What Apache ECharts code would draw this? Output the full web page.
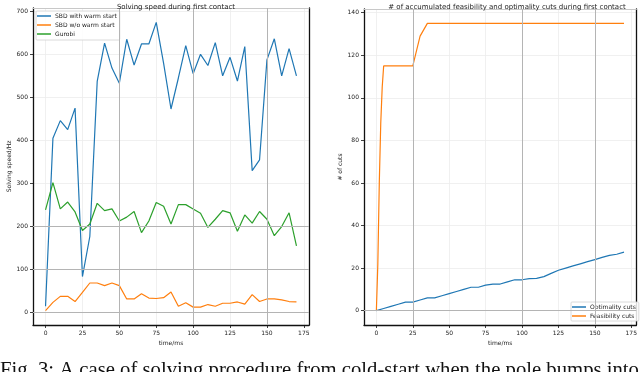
<!DOCTYPE html>
<html>
<head>
<meta charset="utf-8">
<script src="https://cdn.jsdelivr.net/npm/echarts@6/dist/echarts.min.js"></script>
<style>
html,body{margin:0;padding:0;background:#fff;}
#c{width:640px;height:372px;}
</style>
</head>
<body>
<div id="c"></div>
<script>
// ---- data ----
const time = [0,5,10,15,20,25,30,35,40,45,50,55,60,65,70,75,80,85,90,95,100,105,110,115,120,125,130,135,140,145,150,155,160,165,170];
const sbdWarm = [15,405,446,425,475,84,177,537,626,568,533,635,575,624,624,674,579,473,545,620,555,600,574,627,550,593,538,618,330,355,587,636,550,613,550];
const sbdNoWarm = [5,24,38,38,26,47,69,69,63,69,63,32,32,44,34,33,35,48,15,23,13,13,19,15,22,22,25,20,42,26,32,32,30,26,25];
const gurobi = [239,302,241,257,234,191,206,254,237,241,213,222,235,186,213,256,247,206,251,251,241,231,198,217,237,232,189,227,208,235,217,179,200,232,155];
const optimalityCuts = [0,1,2,3,4,4,5,6,6,7,8,9,10,11,11,12,12.5,12.5,13.5,14.5,14.5,15,15.2,16,17.5,19,20,21,22,23,24,25,26,26.5,27.5];
const feasTime = [0,1,2,3,4,5,25,30,35,170];
const feasibilityCuts = [0,22,60,88,105,115,115,129,135,135];
const xTicks = [0,25,50,75,100,125,150,175];
const yTicksLeft = [0,100,200,300,400,500,600,700];
const yTicksRight = [0,20,40,60,80,100,120,140];
const darkXLeft = [50,100,150];
const darkYLeft = [0,100,200];
const darkXRight = [25,100,150];
const darkYRight = [0];

const zip = (xs, ys) => xs.map((x,i)=>[x, ys[i]]);
const FONT = 'DejaVu Sans';
const C1 = '#1f77b4', C2 = '#ff7f0e', C3 = '#2ca02c';

function xAxisCfg(gi, name) {
  return {
    type:'value', gridIndex:gi, min:-8.5, max:178.5,
    name:name, nameLocation:'middle', nameGap:15,
    nameTextStyle:{fontFamily:FONT, fontSize:6, color:'#222'},
    axisLine:{show:true, onZero:false, lineStyle:{color:'#111', width:1.3}},
    axisTick:{show:true, length:3, customValues:xTicks, lineStyle:{color:'#111', width:0.8}},
    axisLabel:{customValues:xTicks, fontFamily:FONT, fontSize:6, color:'#222', margin:5},
    splitLine:{show:true, lineStyle:{color:'#ececec', width:0.8}}
  };
}
function yAxisCfg(gi, min, max, ticks, name) {
  return {
    type:'value', gridIndex:gi, min:min, max:max,
    name:name, nameLocation:'middle', nameGap:21,
    nameTextStyle:{fontFamily:FONT, fontSize:6, color:'#222'},
    axisLine:{show:true, onZero:false, lineStyle:{color:'#111', width:1.3}},
    axisTick:{show:true, length:3, customValues:ticks, lineStyle:{color:'#111', width:0.8}},
    axisLabel:{customValues:ticks, fontFamily:FONT, fontSize:6, color:'#222', margin:5},
    splitLine:{show:true, lineStyle:{color:'#ececec', width:0.8}}
  };
}
function frameX(gi) {
  return {type:'value', gridIndex:gi, position:'top', min:-8.5, max:178.5,
    axisLine:{show:true, onZero:false, lineStyle:{color:'#c8c8c8', width:1}},
    axisTick:{show:false}, axisLabel:{show:false}, splitLine:{show:false}};
}
function frameY(gi, min, max, color) {
  return {type:'value', gridIndex:gi, position:'right', min:min, max:max,
    axisLine:{show:true, onZero:false, lineStyle:{color:color, width:1.3}},
    axisTick:{show:false}, axisLabel:{show:false}, splitLine:{show:false}};
}
function gridLines(xs, ys) {
  return {
    silent:true, symbol:['none','none'], animation:false,
    label:{show:false},
    lineStyle:{color:'#b4b4b4', width:1, type:'solid'},
    data: xs.map(v=>({xAxis:v})).concat(ys.map(v=>({yAxis:v})))
  };
}
function lineSeries(name, data, color, xi, yi, ml) {
  const s = {type:'line', name:name, data:data, xAxisIndex:xi, yAxisIndex:yi,
    showSymbol:false, symbol:'none', lineStyle:{color:color, width:1.2}, itemStyle:{color:color},
    animation:false, z:3};
  if (ml) s.markLine = ml;
  return s;
}

const chart = echarts.init(document.getElementById('c'), null, {renderer:'canvas'});
chart.setOption({
  backgroundColor:'#fff',
  animation:false,
  title:[
    {text:'Solving speed during first contact', left:171, top:-1, textAlign:'center',
      textStyle:{fontFamily:FONT, fontSize:7, fontWeight:'normal', color:'#222'}},
    {text:'# of accumulated feasibility and optimality cuts during first contact', left:502, top:-1, textAlign:'center',
      textStyle:{fontFamily:FONT, fontSize:7, fontWeight:'normal', color:'#222'}}
  ],
  grid:[
    {left:33, top:8, width:276, height:317},
    {left:364, top:9, width:276, height:316}
  ],
  xAxis:[ xAxisCfg(0,'time/ms'), xAxisCfg(1,'time/ms'), frameX(0), frameX(1) ],
  yAxis:[
    yAxisCfg(0,-28.5,707.5,yTicksLeft,'Solving speed/Hz'),
    yAxisCfg(1,-6.75,141.75,yTicksRight,'# of cuts'),
    frameY(0,-28.5,707.5,'#111'),
    frameY(1,-6.75,141.75,'#111')
  ],
  legend:[
    {orient:'vertical', left:36, top:11, data:['SBD with warm start','SBD w/o warm start','Gurobi'],
      backgroundColor:'rgba(255,255,255,0.85)', borderColor:'#d0d0d0', borderWidth:0.8, borderRadius:1,
      padding:[1,3,2,1], itemGap:1, itemWidth:14, itemHeight:1.5, icon:'rect',
      textStyle:{fontFamily:FONT, fontSize:6, color:'#222', lineHeight:8, padding:[0,0,0,-1]}},
    {orient:'vertical', left:571, top:302, data:['Optimality cuts','Feasibility cuts'],
      backgroundColor:'rgba(255,255,255,0.85)', borderColor:'#d0d0d0', borderWidth:0.8, borderRadius:1,
      padding:[1,3,1,1], itemGap:1, itemWidth:14, itemHeight:1.5, icon:'rect',
      textStyle:{fontFamily:FONT, fontSize:6, color:'#222', lineHeight:8, padding:[0,0,0,-1]}}
  ],
  graphic:[
    {type:'text', left:0, top:360, z:100,
      style:{text:'Fig. 3: A case of solving procedure from cold-start when the pole bumps into',
        font:'20.7px "Liberation Serif"', fill:'#111'}}
  ],
  series:[
    lineSeries('SBD with warm start', zip(time,sbdWarm), C1, 0, 0, gridLines(darkXLeft, darkYLeft)),
    lineSeries('SBD w/o warm start', zip(time,sbdNoWarm), C2, 0, 0),
    lineSeries('Gurobi', zip(time,gurobi), C3, 0, 0),
    lineSeries('Optimality cuts', zip(time,optimalityCuts), C1, 1, 1, gridLines(darkXRight, darkYRight)),
    lineSeries('Feasibility cuts', zip(feasTime,feasibilityCuts), C2, 1, 1)
  ]
});
</script>
</body>
</html>
